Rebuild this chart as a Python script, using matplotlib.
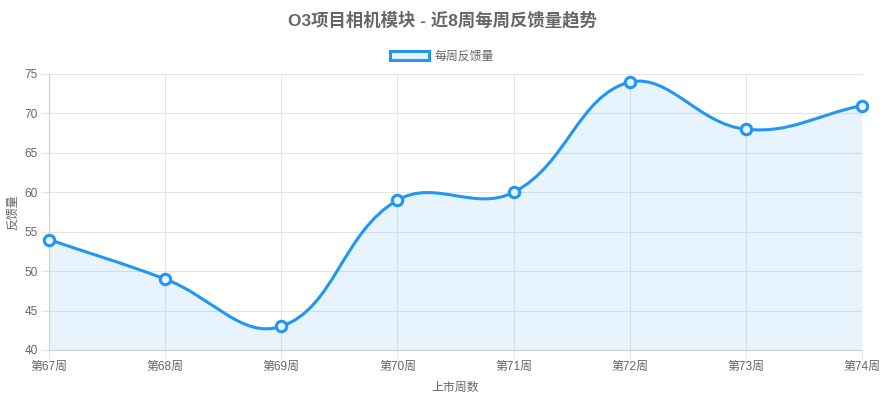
import matplotlib.pyplot as plt
from matplotlib.path import Path
from matplotlib.patches import PathPatch, Patch
import numpy as np

plt.rcParams['font.family'] = ['Liberation Sans', 'Noto Sans CJK SC', 'DejaVu Sans']

weeks = ['第67周', '第68周', '第69周', '第70周', '第71周', '第72周', '第73周', '第74周']
feedback = [54, 49, 43, 59, 60, 74, 68, 71]
series_name = '每周反馈量'
title = 'O3项目相机模块 - 近8周每周反馈量趋势'
x_title = '上市周数'
y_title = '反馈量'

blue = '#2196F3'
fill = (33 / 255, 150 / 255, 243 / 255, 0.1)
grey = '#666666'
grid = '#e5e5e5'

W, H = 884, 401
fig = plt.figure(figsize=(W / 100, H / 100), dpi=100)
left, right, top, bottom = 49, 862, 74, 350
ax = fig.add_axes([left / W, (H - bottom) / H, (right - left) / W, (bottom - top) / H])

x = np.arange(len(weeks))
ax.set_xlim(0, len(weeks) - 1)
ax.set_ylim(40, 75)

# chart.js style bezier (tension 0.4), computed in pixel space
pts = ax.transData.transform(np.column_stack([x, feedback]))
x0, y0 = ax.transData.transform((0, 40))
x1, y1 = ax.transData.transform((len(weeks) - 1, 75))
t = 0.4
ctrl = []
for i, p in enumerate(pts):
    prev = pts[i - 1] if i > 0 else p
    nxt = pts[i + 1] if i < len(pts) - 1 else p
    d01 = np.hypot(*(p - prev))
    d12 = np.hypot(*(nxt - p))
    tot = d01 + d12
    s01 = d01 / tot if tot else 0
    s12 = d12 / tot if tot else 0
    cp_prev = p - t * s01 * (nxt - prev)
    cp_next = p + t * s12 * (nxt - prev)
    for c in (cp_prev, cp_next):
        c[0] = min(max(c[0], x0), x1)
        c[1] = min(max(c[1], y0), y1)
    ctrl.append((cp_prev, cp_next))

verts = [pts[0]]
codes = [Path.MOVETO]
for i in range(1, len(pts)):
    verts += [ctrl[i - 1][1], ctrl[i][0], pts[i]]
    codes += [Path.CURVE4] * 3
inv = ax.transData.inverted()
verts_data = inv.transform(np.array(verts))

curve = Path(verts_data, codes)
area = Path(np.vstack([verts_data, [[len(weeks) - 1, 40], [0, 40], verts_data[0]]]),
            codes + [Path.LINETO, Path.LINETO, Path.CLOSEPOLY])
ax.add_patch(PathPatch(area, facecolor=fill, edgecolor='none', zorder=2))
ax.add_patch(PathPatch(curve, facecolor='none', edgecolor=blue, lw=2.2, zorder=3))
ax.plot(x, feedback, 'o', ms=7.5, mfc='#e8f4fe', mec=blue, mew=2.2, zorder=4, clip_on=False)

ax.set_xticks(x)
ax.set_xticklabels(weeks)
ax.set_yticks(range(40, 76, 5))
ax.grid(True, color=grid, lw=0.8)
ax.set_axisbelow(True)
for s in ('top', 'right'):
    ax.spines[s].set_visible(False)
for s in ('left', 'bottom'):
    ax.spines[s].set_color('#d0d0d0')
ax.tick_params(length=6, color=grid, labelcolor=grey, labelsize=8.6, pad=2)

ax.set_xlabel(x_title, color=grey, fontsize=8.6, labelpad=6)
ax.set_ylabel(y_title, color=grey, fontsize=8.6, labelpad=4)
fig.text(0.5, 1 - 20 / H, title, ha='center', va='center', color=grey,
         fontsize=12.5, fontweight='bold')

handle = Patch(facecolor=fill, edgecolor=blue, lw=2.2)
fig.legend([handle], [series_name], loc='center', bbox_to_anchor=(0.5, 1 - 57 / H),
           frameon=False, fontsize=8.6, labelcolor=grey, handlelength=3.3,
           handleheight=0.8, handletextpad=0.5)

fig.savefig('out.png', dpi=100)
